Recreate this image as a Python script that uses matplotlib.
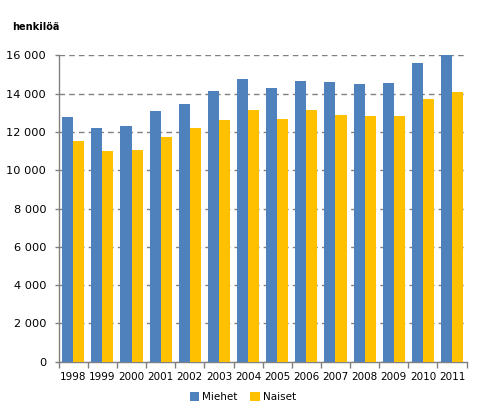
import matplotlib.pyplot as plt
import numpy as np

# --- data ---
vuodet = ['1998', '1999', '2000', '2001', '2002', '2003', '2004',
          '2005', '2006', '2007', '2008', '2009', '2010', '2011']
miehet = [12780, 12200, 12300, 13100, 13470, 14150, 14780,
          14300, 14680, 14620, 14520, 14570, 15620, 15990]
naiset = [11540, 11000, 11050, 11730, 12200, 12620, 13150,
          12700, 13150, 12880, 12840, 12840, 13700, 14100]
y_ticks = [0, 2000, 4000, 6000, 8000, 10000, 12000, 14000, 16000]

SININEN = '#4F81BD'
KELTAINEN = '#FFC000'
HARMAA = '#808080'

fig = plt.figure(figsize=(4.82, 4.18), dpi=100)
ax = fig.add_axes([0.1218, 0.1345, 0.8462, 0.7332])

x = np.arange(len(vuodet))
w = 0.38
ax.bar(x - w / 2, miehet, width=w, color=SININEN, label='Miehet', zorder=3)
ax.bar(x + w / 2, naiset, width=w, color=KELTAINEN, label='Naiset', zorder=3)

ax.set_xlim(-0.5, len(vuodet) - 0.5)
ax.set_ylim(0, 16000)

# y axis: space as thousands separator
ax.set_yticks(y_ticks)
ax.set_yticklabels([f'{v:,}'.replace(',', ' ') for v in y_ticks])
ax.yaxis.grid(True, color=HARMAA, linestyle=(0, (4, 3)), linewidth=1.0, zorder=0)

# x axis: labels centered, tick marks between categories
ax.set_xticks(x)
ax.set_xticklabels(vuodet)
ax.set_xticks(np.arange(-0.5, len(vuodet)), minor=True)
ax.tick_params(axis='x', which='major', length=0, pad=7, labelsize=7.5)
ax.tick_params(axis='x', which='minor', length=4, color=HARMAA, width=1)
ax.tick_params(axis='y', length=3, color=HARMAA, width=1, pad=6, labelsize=8.2)

for side in ['top', 'right']:
    ax.spines[side].set_visible(False)
for side in ['left', 'bottom']:
    ax.spines[side].set_color(HARMAA)
    ax.spines[side].set_linewidth(1.0)

fig.text(12 / 482, 1 - 27 / 418, 'henkilöä', fontsize=7, fontweight='bold',
         va='center', ha='left')

fig.legend(loc='center', bbox_to_anchor=(243 / 482, 1 - 397 / 418), ncol=2,
           frameon=False, fontsize=7.5, handlelength=0.9, handleheight=0.9,
           handletextpad=0.3, columnspacing=1.2, borderaxespad=0)

fig.savefig('out.png', dpi=100)
